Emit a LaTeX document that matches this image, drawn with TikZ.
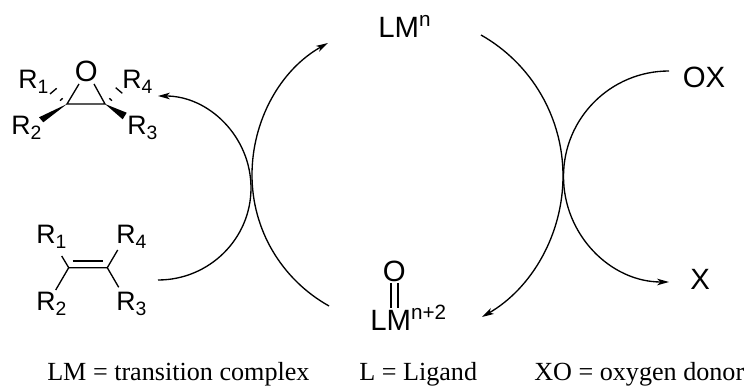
\documentclass[tikz,border=0pt]{standalone}
\usepackage{fontspec}
\setmainfont{Liberation Serif}
\newfontfamily\chemfont{Liberation Sans}
\usetikzlibrary{arrows.meta}
\newcommand{\rsub}[1]{R\raisebox{-3.7pt}{\fontsize{14.5}{14.5}\selectfont #1}}
\newcommand{\lmsup}[1]{LM\raisebox{8.5pt}{\fontsize{15.5}{15.5}\selectfont #1}}
\tikzset{
  cyclearrow/.style={-{Stealth[length=9pt,width=5pt,inset=2.5pt]}, line width=1pt},
  bond/.style={line width=1pt},
  wedge/.style={fill=black, draw=none},
  group/.style={font=\chemfont\fontsize{20}{20}\selectfont, anchor=base west, inner sep=0pt},
  metal/.style={font=\chemfont\fontsize{22}{22}\selectfont, anchor=base west, inner sep=0pt},
  legend/.style={font=\fontsize{19.6}{19.6}\selectfont, anchor=base west, inner sep=0pt}
}
\begin{document}
\begin{tikzpicture}[x=0.75pt, y=-0.75pt]
  \useasboundingbox (0,0) rectangle (746,391);
  % catalyst and oxidant
  \node[metal] (lmn) at (378,38) {\lmsup{n}};
  \node[metal] (lmo) at (370,331) {\lmsup{n+2}};
  \node[metal] (oxo) at (382.6,282) {O};
  \node[metal] (ox) at (682.5,88) {OX};
  \node[metal] (x) at (690,290) {X};
  \draw[bond] (391,283) -- (391,308);
  \draw[bond] (398,283) -- (398,308);
  % epoxide
  \node[metal] (epo) at (74.6,82) {O};
  \node[group] (ea) at (18,89) {\rsub{1}};
  \node[group] (ed) at (122,89) {\rsub{4}};
  \node[group] (eb) at (11,135) {\rsub{2}};
  \node[group] (ec) at (127,135) {\rsub{3}};
  \coordinate (cl) at (67,104);
  \coordinate (cr) at (105,104);
  \draw[bond] (79,84) -- (cl) -- (cr) -- (94,84);
  \fill[wedge] (cl) -- (39,117.3) -- (43.3,122.3) -- cycle;
  \fill[wedge] (cr) -- (126.7,112.7) -- (122.7,119.3) -- cycle;
  \draw[bond] (60,100.7) -- (62.7,98.3);
  \draw[bond] (50,94) -- (56.7,88.3);
  \draw[bond] (109.3,98.3) -- (112,100.7);
  \draw[bond] (115.7,87.7) -- (122.3,93.3);
  % alkene
  \node[group] (aa) at (36,244) {\rsub{1}};
  \node[group] (ad) at (116,244) {\rsub{4}};
  \node[group] (ab) at (36,310.7) {\rsub{2}};
  \node[group] (ac) at (116,310.7) {\rsub{3}};
  \coordinate (dl) at (68.7,267.7);
  \coordinate (dr) at (107.3,267.7);
  \draw[bond] (61.7,256) -- (dl) -- (dr) -- (117.7,250);
  \draw[bond] (55.7,290) -- (dl);
  \draw[bond] (118.7,287.3) -- (dr);
  \draw[bond] (72.7,261) -- (103.3,261);
  % curved arrows
  \coordinate (a1) at (158,280);
  \coordinate (a2) at (158,96);
  \coordinate (b1) at (329,306);
  \coordinate (b2) at (328,43);
  \coordinate (c1) at (481,35);
  \coordinate (c2) at (482,317);
  \coordinate (d1) at (669,71);
  \coordinate (d2) at (669,282);
  \draw[cyclearrow] (a1) .. controls (209,280) and (251,239) .. (251,188)
    .. controls (251,137) and (209,96) .. (a2);
  \draw[cyclearrow] (b1) .. controls (281.4,279.3) and (252,229.6) .. (252,175)
    .. controls (252,120.4) and (280.4,69.7) .. (b2);
  \draw[cyclearrow] (c1) .. controls (531.8,63.8) and (563,117.6) .. (563,176)
    .. controls (563,234.4) and (531.8,288.2) .. (c2);
  \draw[cyclearrow] (d1) .. controls (610.7,71) and (563.5,118) .. (563.5,176.5)
    .. controls (563.5,235) and (610.7,282) .. (d2);
  % legend
  \node[legend] (lega) at (47,381) {LM = transition complex};
  \node[legend] (legb) at (359,381) {L = Ligand};
  \node[legend] (legc) at (534,381) {XO = oxygen donor};
\end{tikzpicture}
\end{document}
